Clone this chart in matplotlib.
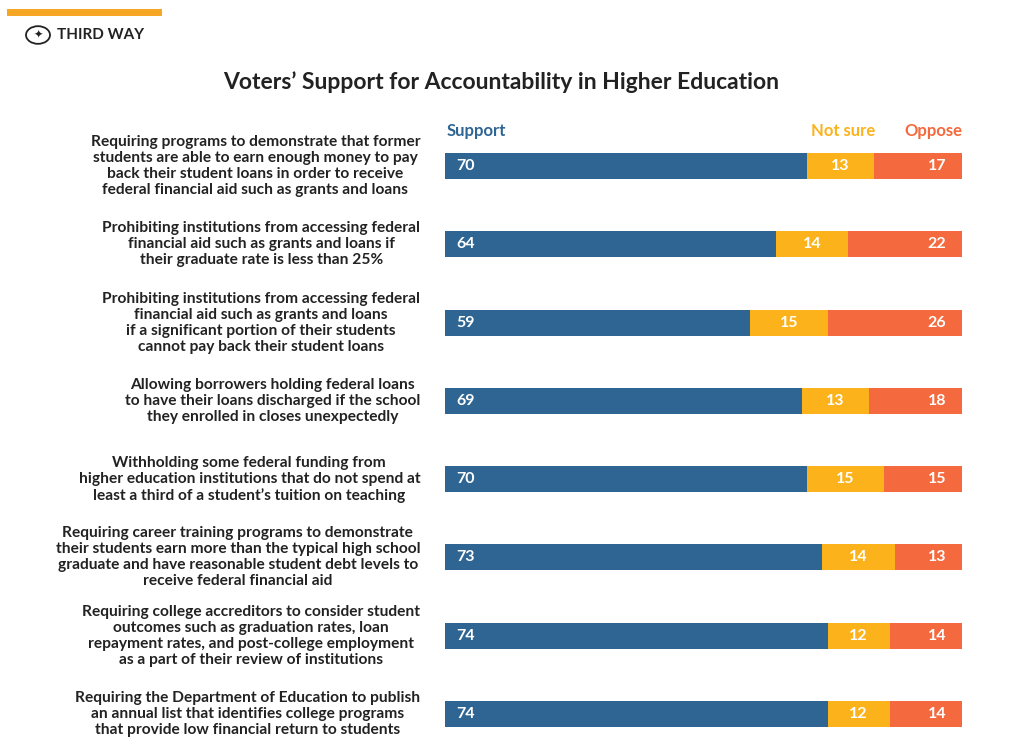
import matplotlib
matplotlib.use("Agg")
import matplotlib.pyplot as plt
from matplotlib.patches import Circle

labels = [
    "Requiring programs to demonstrate that former\nstudents are able to earn enough money to pay\nback their student loans in order to receive\nfederal financial aid such as grants and loans",
    "Prohibiting institutions from accessing federal\nfinancial aid such as grants and loans if\ntheir graduate rate is less than 25%",
    "Prohibiting institutions from accessing federal\nfinancial aid such as grants and loans\nif a significant portion of their students\ncannot pay back their student loans",
    "Allowing borrowers holding federal loans\nto have their loans discharged if the school\nthey enrolled in closes unexpectedly",
    "Withholding some federal funding from\nhigher education institutions that do not spend at\nleast a third of a student\u2019s tuition on teaching",
    "Requiring career training programs to demonstrate\ntheir students earn more than the typical high school\ngraduate and have reasonable student debt levels to\nreceive federal financial aid",
    "Requiring college accreditors to consider student\noutcomes such as graduation rates, loan\nrepayment rates, and post-college employment\nas a part of their review of institutions",
    "Requiring the Department of Education to publish\nan annual list that identifies college programs\nthat provide low financial return to students",
]
support = [70, 64, 59, 69, 70, 73, 74, 74]
not_sure = [13, 14, 15, 13, 15, 14, 12, 12]
oppose = [17, 22, 26, 18, 15, 13, 14, 14]

C_S, C_N, C_O = "#2f6592", "#fbb21b", "#f4693d"
plt.rcParams['font.family'] = ['Lato', 'DejaVu Sans']
W, H = 1024, 753
fig = plt.figure(figsize=(W/100, H/100), dpi=100)
fig.patch.set_facecolor("white")

def fx(x): return x / W
def fy(y): return 1 - y / H

ax = fig.add_axes([fx(445), fy(753), fx(962) - fx(445), (753 - 127) / H])
ys = list(range(len(labels)))
h = 0.33
ax.barh(ys, support, height=h, color=C_S)
ax.barh(ys, not_sure, left=support, height=h, color=C_N)
lefts2 = [a + b for a, b in zip(support, not_sure)]
ax.barh(ys, oppose, left=lefts2, height=h, color=C_O)
for i in ys:
    ax.text(2.2, i, str(support[i]), color="white", va="center", ha="left", fontsize=11.5, fontweight="bold")
    ax.text(support[i] + not_sure[i] / 2, i, str(not_sure[i]), color="white", va="center", ha="center", fontsize=11.5, fontweight="bold")
    ax.text(97, i, str(oppose[i]), color="white", va="center", ha="right", fontsize=11.5, fontweight="bold")
    ax.text(-4.8, i, labels[i], ha="right", va="center", multialignment="center",
            fontsize=11.2, fontweight="bold", color="#222222", linespacing=1.18)
ax.set_xlim(0, 100)
ax.set_ylim(7.5, -0.5)
ax.axis("off")

fig.text(fx(447), fy(131), "Support", color=C_S, fontsize=12, fontweight="bold", va="center", ha="left")
fig.text(fx(843), fy(131), "Not sure", color=C_N, fontsize=12, fontweight="bold", va="center", ha="center")
fig.text(fx(962), fy(131), "Oppose", color=C_O, fontsize=12, fontweight="bold", va="center", ha="right")

fig.text(fx(501), fy(82), "Voters\u2019 Support for Accountability in Higher Education", ha="center", va="center",
         fontsize=16.5, fontweight="bold", color="#222222")

fig.add_artist(plt.Line2D([fx(10), fx(158)], [fy(12), fy(12)], color="#f5a623", lw=5))
fig.add_artist(Circle((fx(38), fy(35)), 12 / W, transform=fig.transFigure, fill=False, ec="#222222", lw=1.3))
fig.text(fx(38), fy(35), "\u2726", ha="center", va="center", fontsize=8, color="#222222", family=["DejaVu Sans"])
fig.text(fx(57), fy(35), "THIRD WAY", ha="left", va="center", fontsize=11, fontweight="bold", color="#222222")

fig.savefig("out.png", dpi=100, facecolor="white")
